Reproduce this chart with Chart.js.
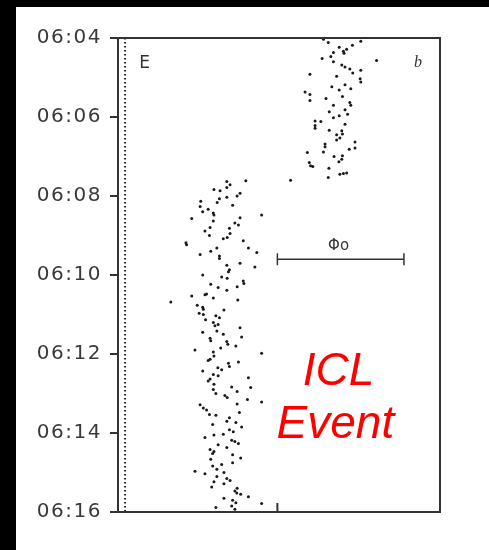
<!DOCTYPE html>
<html>
<head>
<meta charset="utf-8">
<script src="https://cdn.jsdelivr.net/npm/chart.js@4/dist/chart.umd.min.js"></script>
<style>
  html, body { margin: 0; padding: 0; background: #000; }
  #wrap { position: absolute; left: 16px; top: 7px; width: 473px; height: 543px; background: #fff; }
</style>
</head>
<body>
<div id="wrap"><canvas id="c" width="473" height="543"></canvas></div>
<script>
// time axis: seconds after 06:00, tick every 2 minutes
const timeTicks = ["06:04", "06:06", "06:08", "06:10", "06:12", "06:14", "06:16"];

// phase of each event (0-100 across the panel) and its time (s after 06:00)
const phaseX = [63.8,65.3,75.4,72.8,68.7,71.0,70.0,70.2,66.9,66.1,63.4,80.3,66.9,69.5,70.5,72.0,72.9,75.4,59.6,67.9,75.2,75.4,70.5,66.4,68.7,72.3,58.1,59.6,64.6,69.7,59.6,72.0,66.9,72.3,
  65.6,70.5,66.9,68.7,71.3,61.2,63.0,61.2,61.2,70.5,65.6,69.5,69.7,67.9,68.9,67.9,73.6,64.3,64.3,73.6,71.8,58.8,63.8,67.1,69.7,69.5,68.6,59.4,59.8,60.5,65.5,68.9,70.0,71.0,65.3,53.6,
  33.8,34.8,39.7,33.8,29.8,31.7,37.9,37.0,33.8,31.5,25.7,30.8,28.0,25.5,35.6,26.3,29.6,29.8,22.9,44.6,29.6,37.9,36.3,37.4,28.6,34.6,34.8,27.0,28.4,33.9,32.7,38.9,21.1,21.3,30.7,40.5,28.8,25.5,31.5,31.5,43.1,
  37.9,33.8,34.6,34.3,42.5,26.3,32.2,33.9,28.8,38.9,39.1,31.1,33.8,37.0,27.5,27.0,29.6,22.9,16.4,37.2,24.6,26.3,26.5,32.9,25.2,26.5,30.4,31.5,27.2,29.6,31.1,30.1,37.9,26.3,30.7,32.7,38.4,28.6,
  28.8,33.8,34.1,36.6,31.9,23.9,29.6,29.8,28.6,28.0,44.6,34.3,34.6,37.4,31.0,32.2,26.3,29.6,31.1,28.6,28.0,40.5,29.8,35.3,41.2,29.6,30.4,37.0,33.2,33.9,40.2,44.6,37.0,25.5,26.5,27.5,37.7,28.4,30.4,34.6,33.8,36.6,29.4,
  38.4,34.6,35.8,32.7,29.8,27.0,35.3,36.3,37.4,31.1,33.8,28.6,29.8,29.4,35.6,38.1,28.8,35.6,32.2,29.4,30.7,23.9,32.9,27.0,30.7,33.8,34.8,29.8,32.9,29.1,37.0,36.3,36.9,38.1,40.5,32.9,35.6,36.6,44.6,35.3,30.4,36.3];
const timeSec = [242,247,245,251,254,257,260,263,262,268,271,274,276,281,284,287,293,289,295,298,302,307,311,314,319,317,322,326,332,329,335,338,342,342,
  352,349,361,358,356,366,367,373,377,371,380,381,386,387,392,395,398,401,405,407,409,414,413,420,419,424,428,429,434,435,438,447,446,445,452,456,
  458,463,457,467,470,472,476,480,482,484,488,490,500,496,494,504,506,509,514,509,518,513,521,524,528,529,537,533,540,543,545,548,551,554,559,559,564,569,571,575,566,
  582,585,592,595,588,600,603,605,614,609,613,619,623,618,629,630,635,632,641,638,646,649,652,653,658,660,662,665,668,672,675,677,680,687,685,690,694,696,
  700,701,705,708,711,714,717,723,728,730,719,734,739,732,741,744,746,751,753,758,761,756,766,770,771,774,780,777,783,786,789,793,796,797,802,805,809,812,813,817,822,824,827,
  831,835,838,842,843,847,851,853,856,858,862,865,868,871,873,878,880,885,888,890,895,898,900,902,906,909,912,914,917,922,924,928,931,933,937,939,942,946,947,951,953,956];

// reference line E and the phase bar
const refPhase = 2.2;
const phiBar = { from: 49.5, to: 88.8, time: 576 };
const xTick = 49.5;

const points = phaseX.map((x, i) => ({ x: x, y: timeSec[i] }));

// frame, inward x tick and text labels
const decor = {
  id: "decor",
  beforeDraw(chart) {
    // wide spacing of the time labels
    chart.ctx.letterSpacing = "1.5px";
  },
  afterDraw(chart) {
    const ctx = chart.ctx;
    const a = chart.chartArea;
    const xs = chart.scales.x, ys = chart.scales.y;
    ctx.save();
    ctx.letterSpacing = "0px";
    ctx.strokeStyle = "#333";
    ctx.lineWidth = 2;
    ctx.strokeRect(a.left, a.top, a.right - a.left, a.bottom - a.top);
    const tx = xs.getPixelForValue(xTick);
    ctx.beginPath();
    ctx.moveTo(tx, a.bottom);
    ctx.lineTo(tx, a.bottom - 9);
    ctx.stroke();

    ctx.fillStyle = "#333";
    ctx.textAlign = "center";
    ctx.textBaseline = "middle";
    ctx.font = "17px 'DejaVu Sans', sans-serif";
    ctx.fillText("E", xs.getPixelForValue(8.3), ys.getPixelForValue(279));
    ctx.font = "italic 16px 'Liberation Serif', serif";
    ctx.fillText("b", xs.getPixelForValue(93.2), ys.getPixelForValue(278));
    ctx.font = "15px 'DejaVu Sans', sans-serif";
    ctx.fillText("Φo", xs.getPixelForValue(68.5), ys.getPixelForValue(556));

    ctx.fillStyle = "#ff0000";
    ctx.textBaseline = "alphabetic";
    ctx.font = "italic 46px 'Liberation Sans', Arial, sans-serif";
    ctx.fillText("ICL", xs.getPixelForValue(68.5), ys.getPixelForValue(767));
    ctx.fillText("Event", xs.getPixelForValue(67.5), ys.getPixelForValue(848));
    ctx.restore();
  }
};

new Chart(document.getElementById("c"), {
  type: "scatter",
  data: {
    datasets: [
      {
        data: points,
        pointRadius: 1.5,
        pointBackgroundColor: "#1a1a1a",
        pointBorderWidth: 0
      },
      {
        type: "line",
        data: [{ x: refPhase, y: 240 }, { x: refPhase, y: 960 }],
        borderColor: "#222",
        borderWidth: 2,
        borderDash: [1.5, 2.5],
        pointRadius: 0
      },
      {
        type: "line",
        data: [{ x: phiBar.from, y: phiBar.time }, { x: phiBar.to, y: phiBar.time }],
        borderColor: "#333",
        borderWidth: 1.5,
        pointStyle: "line",
        pointRotation: 90,
        pointRadius: 6,
        pointBorderColor: "#333",
        pointBorderWidth: 1.5
      }
    ]
  },
  options: {
    responsive: false,
    animation: false,
    layout: { padding: { top: 31, right: 49, left: 0, bottom: 0 } },
    plugins: { legend: { display: false }, tooltip: { enabled: false } },
    scales: {
      x: {
        type: "linear",
        min: 0,
        max: 100,
        ticks: { display: false },
        grid: { display: false },
        border: { display: false },
        afterFit(s) { s.height = 38; }
      },
      y: {
        type: "linear",
        reverse: true,
        min: 240,
        max: 960,
        afterBuildTicks(s) { s.ticks = timeTicks.map((t, i) => ({ value: 240 + i * 120 })); },
        ticks: {
          padding: 8,
          color: "#3a3a3a",
          font: { family: "'DejaVu Sans', sans-serif", size: 20 },
          callback: (v) => timeTicks[Math.round((v - 240) / 120)]
        },
        grid: { drawOnChartArea: false, drawTicks: true, tickLength: 8, color: "#333", lineWidth: 2 },
        border: { display: false },
        afterFit(s) { s.width = 102; }
      }
    }
  },
  plugins: [decor]
});
</script>
</body>
</html>
